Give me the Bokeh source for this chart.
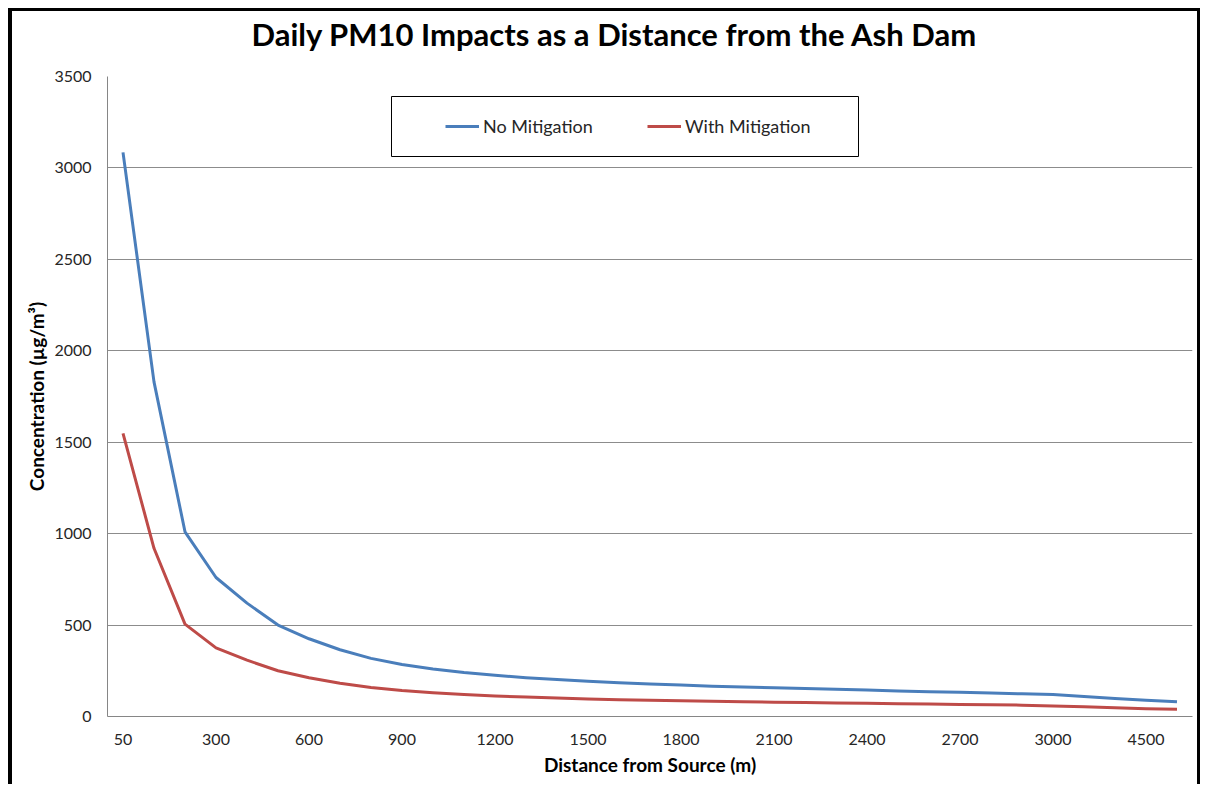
from bokeh.plotting import figure
from bokeh.models import FixedTicker, Legend, LegendItem, Title, BoxAnnotation
from bokeh.embed import file_html
from bokeh.resources import INLINE

# ---- data ----
distances = ["50", "100", "200", "300", "400", "500", "600", "700", "800", "900",
             "1000", "1100", "1200", "1300", "1400", "1500", "1600", "1700", "1800", "1900",
             "2000", "2100", "2200", "2300", "2400", "2500", "2600", "2700", "2800", "2900",
             "3000", "3500", "4000", "4500", "5000"]
no_mitigation = [3085, 1830, 1010, 760, 620, 500, 425, 365, 318, 284,
                 260, 240, 225, 212, 202, 193, 185, 178, 172, 166,
                 161, 157, 153, 149, 145, 140, 136, 132, 128, 124,
                 120, 109, 99, 89, 80]
with_mitigation = [1548, 920, 505, 375, 308, 250, 212, 182, 159, 142,
                   130, 120, 112, 106, 101, 96, 92, 89, 86, 83,
                   80, 78, 76, 74, 72, 70, 68, 66, 64, 62,
                   58, 53, 48, 43, 39]
label_every = 3
y_ticks = [0, 500, 1000, 1500, 2000, 2500, 3000, 3500]
chart_title = "Daily PM10 Impacts as a Distance from the Ash Dam"

xs = list(range(len(distances)))

FONT = "Lato"
TEXT = "#262626"

p = figure(width=1192, height=776, output_backend="svg", toolbar_location=None,
           x_range=(-0.5, len(distances) - 0.5), y_range=(0, 3500),
           min_border_left=95, min_border_right=12, min_border_top=65, min_border_bottom=71)
p.title = None
p.styles = {"margin-left": "8px", "margin-top": "8px",
            "border-left": "4px solid black", "border-top": "3px solid black",
            "border-right": "3px solid black"}

# spacer between title and plot frame (closest panel to the frame)
p.add_layout(Title(text=" ", text_font=FONT, text_font_size="10px", standoff=9), "above")
p.add_layout(Title(text=chart_title, align="left", offset=144, vertical_align="middle",
                   standoff=0, text_font=FONT, text_font_size="31px",
                   text_font_style="bold", text_color="black"), "above")

p.outline_line_color = None
p.background_fill_color = "white"
p.border_fill_color = "white"

r1 = p.line(xs, no_mitigation, line_color="#4a7ebb", line_width=3, line_join="round")
r2 = p.line(xs, with_mitigation, line_color="#be4b48", line_width=3, line_join="round")

# axes
p.xaxis.ticker = FixedTicker(ticks=xs[::label_every])
p.xaxis.major_label_overrides = {i: distances[i] for i in xs[::label_every]}
p.xaxis.axis_label = "Distance from Source (m)"
p.yaxis.axis_label = "Concentration (µg/m³)"
p.yaxis.ticker = FixedTicker(ticks=y_ticks)

for ax in (p.xaxis[0], p.yaxis[0]):
    ax.axis_line_color = "#868686"
    ax.axis_line_width = 1
    ax.major_tick_line_color = None
    ax.minor_tick_line_color = None
    ax.major_label_text_font = FONT
    ax.major_label_text_font_size = "16px"
    ax.major_label_text_color = TEXT
    ax.axis_label_text_font = FONT
    ax.axis_label_text_font_size = "19px"
    ax.axis_label_text_font_style = "bold"
    ax.axis_label_text_color = "black"

p.xaxis.major_label_standoff = 11
p.xaxis.axis_label_standoff = 5
p.yaxis.major_label_standoff = 10
p.yaxis.axis_label_standoff = 3

p.xgrid.grid_line_color = None
p.ygrid.grid_line_color = "#8c8c8c"
p.ygrid.grid_line_width = 1

# legend frame (screen units relative to the plot frame)
legend_box = BoxAnnotation(left=284, right=751, bottom=560, top=620,
                           left_units="screen", right_units="screen",
                           bottom_units="screen", top_units="screen",
                           fill_color="white", fill_alpha=1,
                           line_color="black", line_width=1, line_alpha=1)
p.add_layout(legend_box)

legend = Legend(items=[LegendItem(label="No Mitigation", renderers=[r1]),
                       LegendItem(label="With Mitigation", renderers=[r2])],
                orientation="horizontal", location=(338, 579),
                border_line_color=None, background_fill_alpha=0,
                padding=10, spacing=14, label_width=150, glyph_width=34,
                label_standoff=4, label_text_font=FONT, label_text_font_size="18px",
                label_text_color=TEXT, margin=0)
p.add_layout(legend, "center")

open("out.html", "w").write(file_html(p, INLINE))
